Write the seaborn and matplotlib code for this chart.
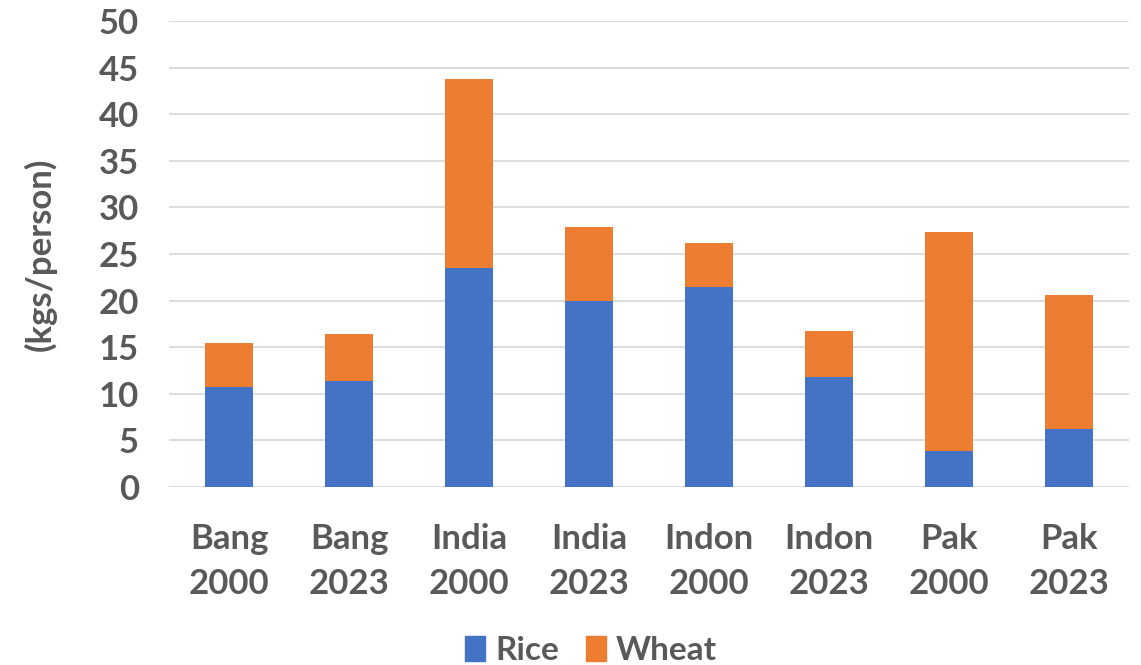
import seaborn as sns
import matplotlib
matplotlib.use("Agg")
import matplotlib.pyplot as plt
from matplotlib.patches import Patch
import pandas as pd
import numpy as np

countries = ["Bang", "Bang", "India", "India", "Indon", "Indon", "Pak", "Pak"]
years = ["2000", "2023", "2000", "2023", "2000", "2023", "2000", "2023"]
rice = [10.7, 11.4, 23.5, 19.9, 21.5, 11.8, 3.8, 6.2]
wheat = [4.7, 5.0, 20.3, 8.0, 4.7, 4.9, 23.6, 14.4]

RICE_COLOR = "#4472C4"
WHEAT_COLOR = "#ED7D31"
TEXT_COLOR = "#595959"

sns.set_theme(style="white")
plt.rcParams.update(
    {
        "font.family": ["Lato", "DejaVu Sans"],
        "font.weight": "bold",
        "font.size": 25,
        "text.color": TEXT_COLOR,
        "axes.labelcolor": TEXT_COLOR,
        "xtick.color": TEXT_COLOR,
        "ytick.color": TEXT_COLOR,
    }
)

df = pd.DataFrame(
    {
        "label": [f"{c}\n{y}" for c, y in zip(countries, years)],
        "rice": rice,
        "wheat": wheat,
    }
)
df["total"] = df["rice"] + df["wheat"]

fig = plt.figure(figsize=(11.41, 6.65), dpi=100)
ax = fig.add_axes([0.1484, 0.2681, 0.8411, 0.6999])

# stacked bars: draw total first, then rice on top of it
sns.barplot(ax=ax, data=df, x="label", y="total", color=WHEAT_COLOR,
            width=0.4, saturation=1, edgecolor="none", zorder=3)
sns.barplot(ax=ax, data=df, x="label", y="rice", color=RICE_COLOR,
            width=0.4, saturation=1, edgecolor="none", zorder=3)

ax.set_ylim(0, 50)
ax.set_xlim(-0.5, len(df) - 0.5)
ax.set_yticks(np.arange(0, 51, 5))
ax.yaxis.grid(True, color="#d9d9d9", linewidth=1.3, zorder=0)
ax.set_axisbelow(True)
for s in ax.spines.values():
    s.set_visible(False)
ax.tick_params(axis="both", length=0, labelsize=25)
ax.tick_params(axis="x", pad=26)
ax.tick_params(axis="y", pad=22)
for lbl in ax.get_xticklabels():
    lbl.set_linespacing(1.5)
ax.set_xlabel("")
ax.set_ylabel("(kgs/person)", fontsize=25, fontweight="bold", labelpad=30)

handles = [Patch(color=RICE_COLOR, label="Rice"), Patch(color=WHEAT_COLOR, label="Wheat")]
fig.legend(handles=handles, loc="center", bbox_to_anchor=(0.518, 0.022), ncol=2,
           frameon=False, fontsize=24, handlelength=0.6, handleheight=0.8,
           handletextpad=0.3, columnspacing=0.8)

fig.savefig("out.png", dpi=100)
